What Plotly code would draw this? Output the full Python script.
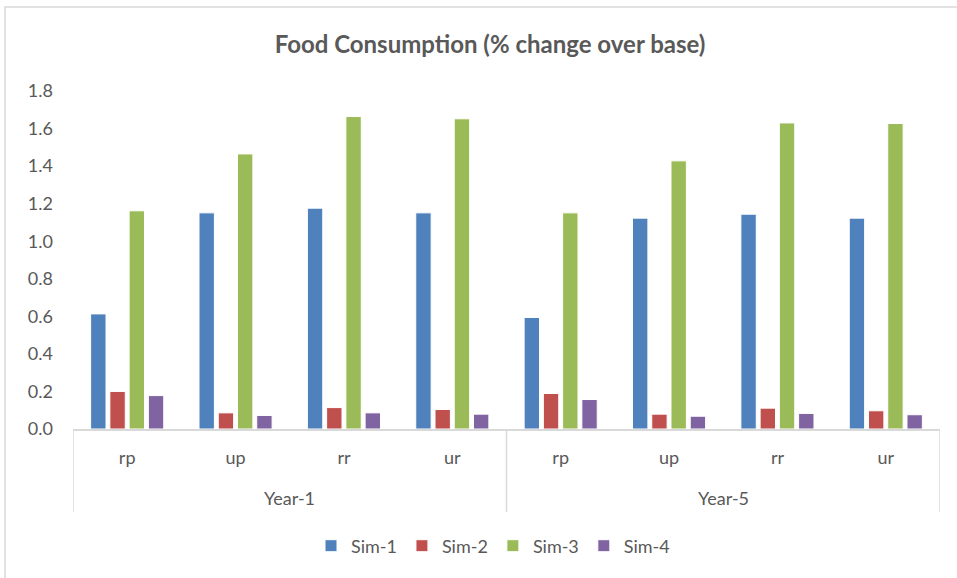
import plotly.graph_objects as go

# Food consumption, % change over base, by period and household group
years = ["Year-1", "Year-5"]
groups = ["rp", "up", "rr", "ur"]
series_names = ["Sim-1", "Sim-2", "Sim-3", "Sim-4"]

sim1 = [0.613, 1.151, 1.176, 1.151, 0.594, 1.123, 1.144, 1.123]
sim2 = [0.200, 0.086, 0.114, 0.104, 0.189, 0.079, 0.111, 0.097]
sim3 = [1.162, 1.465, 1.664, 1.652, 1.151, 1.428, 1.630, 1.627]
sim4 = [0.178, 0.072, 0.086, 0.079, 0.157, 0.068, 0.083, 0.076]

colors = ["#4F81BD", "#C0504D", "#9BBB59", "#8064A2"]
text_color = "#595959"
line_color = "#D9D9D9"
font_family = "Lato, 'Open Sans', sans-serif"

# one slot per (year, group) pair on a positional x axis
n_groups = len(groups)
slots = list(range(len(years) * n_groups))
slot_labels = [g for _ in years for g in groups]

W, H = 957, 578
margin = dict(l=73, r=17, t=91, b=149)
plot_h = H - margin["t"] - margin["b"]

fig = go.Figure()
for name, vals, col in zip(series_names, [sim1, sim2, sim3, sim4], colors):
    fig.add_trace(go.Bar(
        x=slots,
        y=vals,
        name=name,
        marker=dict(color=col, line=dict(color="white", width=1)),
    ))

fig.update_layout(
    width=W,
    height=H,
    margin=margin,
    paper_bgcolor="white",
    plot_bgcolor="white",
    barmode="group",
    bargap=0.29,
    bargroupgap=0.2,
    font=dict(family=font_family, size=18, color=text_color),
    title=dict(
        text="<b>Food Consumption (% change over base)</b>",
        x=490 / W,
        xanchor="center",
        y=1 - 45 / H,
        yanchor="middle",
        font=dict(family=font_family, size=24, color=text_color),
    ),
    legend=dict(
        orientation="h",
        x=493 / W,
        xanchor="center",
        xref="container",
        y=1 - 546 / H,
        yanchor="middle",
        yref="container",
        font=dict(size=18, color=text_color),
        itemwidth=30,
        traceorder="normal",
    ),
    showlegend=True,
)

fig.update_yaxes(
    range=[0, 1.8],
    dtick=0.2,
    tickformat=".1f",
    showgrid=False,
    zeroline=False,
    showline=False,
    ticks="",
    ticklabelstandoff=19,
    automargin=False,
)

fig.update_xaxes(
    range=[-0.5, len(slots) - 0.5],
    tickvals=slots,
    ticktext=slot_labels,
    showline=True,
    linecolor=line_color,
    linewidth=1.5,
    ticks="",
    showgrid=False,
    zeroline=False,
    ticklabelstandoff=12,
    automargin=False,
)

# period labels and the dividers that box each period
div_depth = (512 - 429) / plot_h
for i, yr in enumerate(years):
    first, last = slots[i * n_groups], slots[(i + 1) * n_groups - 1]
    fig.add_annotation(
        x=(first + last) / 2, xref="x",
        y=-(498 - 429) / plot_h, yref="paper",
        text=yr, showarrow=False,
        font=dict(size=18, color=text_color),
        yanchor="middle",
    )
    for edge in ([first - 0.5, last + 0.5] if i == 0 else [last + 0.5]):
        fig.add_shape(
            type="line", xref="x", yref="paper",
            x0=edge, x1=edge, y0=0, y1=-div_depth,
            line=dict(color=line_color, width=1.5),
        )

# light chart frame (left and top edges fall inside the page)
fig.add_shape(
    type="rect", xref="paper", yref="paper",
    x0=-68 / (W - 90), x1=1.2, y0=-0.6, y1=1 + 84 / plot_h,
    line=dict(color=line_color, width=1.5),
)

fig.write_html("out.html")
